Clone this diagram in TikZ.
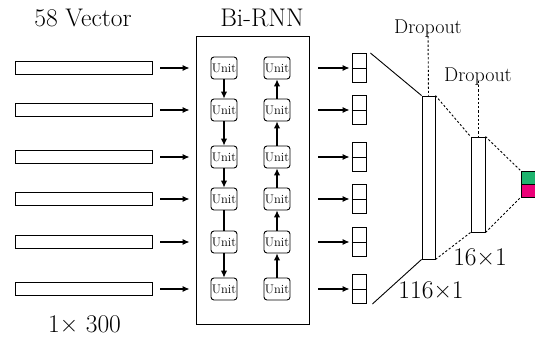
\documentclass[tikz,border=0pt]{standalone}
\usetikzlibrary{arrows.meta}
\definecolor{outgreen}{RGB}{30,180,110}
\definecolor{outpink}{RGB}{235,0,120}
\begin{document}
\begin{tikzpicture}[x=1pt,y=-1pt,
  bar/.style={draw, line width=0.9pt, minimum width=137pt, minimum height=13pt, inner sep=0pt},
  unitbox/.style={draw, line width=0.9pt, rounded corners=3pt, minimum width=26pt, minimum height=22pt, inner sep=0pt, font=\fontsize{12.5}{14}\selectfont},
  smallbox/.style={draw, line width=0.9pt, minimum width=14pt, minimum height=29pt, inner sep=0pt},
  col/.style={draw, line width=0.9pt, inner sep=0pt},
  arr/.style={line width=1.1pt, -{Latex[length=7pt,width=6pt]}},
  varr/.style={line width=1.2pt, -{Latex[length=7pt,width=6.5pt]}},
  dotline/.style={line width=0.9pt, dash pattern=on 2.2pt off 2pt},
  bigtext/.style={font=\fontsize{25.5}{30}\selectfont, inner sep=0pt},
  droptext/.style={font=\fontsize{20}{24}\selectfont, inner sep=0pt}
]
\useasboundingbox (0,0) rectangle (535,340);

% titles
\node[bigtext] (t1) at (83,18) {58 Vector};
\node[bigtext] (t2) at (262,18) {Bi-RNN};
\node[bigtext] (t3) at (84.5,324) {1× 300};

% RNN box
\node[draw, line width=0.9pt, minimum width=113pt, minimum height=288pt, inner sep=0pt] (rnn) at (252.5,180) {};

\foreach \i/\y in {1/68,2/110,3/157,4/199,5/242,6/289}{
  \node[bar] (in\i) at (83.5,\y) {};
  \node[unitbox] (L\i) at (224,\y) {Unit};
  \node[unitbox] (R\i) at (277,\y) {Unit};
  \node[smallbox] (o\i) at (359,\y) {};
  \draw[line width=0.9pt] (o\i.west) -- (o\i.east);
  \draw[arr] ([xshift=8pt]in\i.east) -- ([xshift=-6pt]in\i.east -| rnn.west);
  \draw[arr] ([xshift=9pt]in\i.east -| rnn.east) -- ([xshift=-2pt]o\i.west);
}

% left column (forward)
\draw[varr] (L1) -- (L2);
\draw[varr] (L2) -- (L3);
\draw[varr] (L3) -- (L4);
\draw[line width=1.2pt] (L4) -- (L5);
\draw[varr] (L5) -- (L6);
% right column (backward)
\draw[varr] (R6) -- (R5);
\draw[varr] (R5) -- (R4);
\draw[varr] (R4) -- (R3);
\draw[varr] (R3) -- (R2);
\draw[varr] (R2) -- (R1);

% dense columns
\node[col, minimum width=13pt, minimum height=163pt] (fc1) at (428.5,177.5) {};
\node[col, minimum width=14pt, minimum height=95pt] (fc2) at (478,184.5) {};
\node[draw, line width=0.9pt, fill=outgreen, minimum width=14pt, minimum height=13pt, inner sep=0pt] (og) at (528,177.5) {};
\node[draw, line width=0.9pt, fill=outpink, minimum width=14pt, minimum height=13pt, inner sep=0pt] (op) at (528,190.5) {};

\draw[line width=0.9pt] ([xshift=4pt]o1.north east) -- (fc1.north west);
\draw[line width=0.9pt] ([xshift=6pt]o6.south east) -- (fc1.south west);
\draw[dotline] (fc1.north east) -- (fc2.north west);
\draw[dotline] (fc1.south east) -- (fc2.south west);
\draw[dotline] (fc2.north east) -- (og.north west);
\draw[dotline] (fc2.south east) -- (op.south west);

% dropout labels
\node[droptext] (d1) at (428,29) {Dropout};
\node[droptext] (d2) at (478,77) {Dropout};
\draw[dotline] ([yshift=6pt]d1.south) -- (fc1.north);
\draw[dotline] ([yshift=5pt]d2.south) -- (fc2.north);

% size labels
\node[bigtext] (s1) at (431,290) {116×1};
\node[bigtext] (s2) at (480,257) {16×1};
\end{tikzpicture}
\end{document}
